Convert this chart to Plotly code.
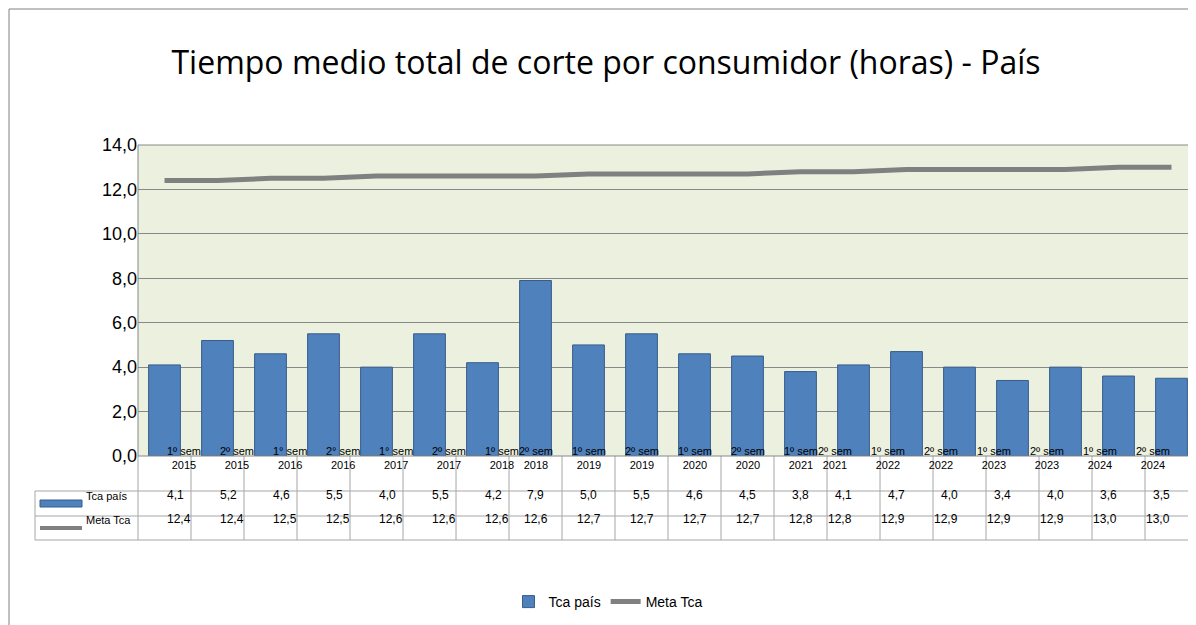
import plotly.graph_objects as go

cats1 = ["1º sem","2º sem","1° sem","2° sem","1° sem","2º sem","1º sem","2º sem","1º sem","2º sem",
         "1º sem","2º sem","1º sem","2º sem","1º sem","2º sem","1º sem","2º sem","1º sem","2º sem"]
years = ["2015","2015","2016","2016","2017","2017","2018","2018","2019","2019",
         "2020","2020","2021","2021","2022","2022","2023","2023","2024","2024"]
tca = [4.1,5.2,4.6,5.5,4.0,5.5,4.2,7.9,5.0,5.5,4.6,4.5,3.8,4.1,4.7,4.0,3.4,4.0,3.6,3.5]
meta = [12.4,12.4,12.5,12.5,12.6,12.6,12.6,12.6,12.7,12.7,12.7,12.7,12.8,12.8,12.9,12.9,12.9,12.9,13.0,13.0]
yticks = [0,2,4,6,8,10,12,14]

W, H = 1196, 625
L, R, T, B = 130, 1190, 137, 448
n = len(tca)
xs = list(range(n))
def px(p): return (p - L) / (R - L)
def py(p): return (B - p) / (B - T)
colw = (R - L) / n

fig = go.Figure()
fig.add_bar(x=xs, y=tca, name="Tca país", width=0.6,
            marker=dict(color="#4f81bd", line=dict(color="#385d8a", width=1)))
fig.add_scatter(x=xs, y=meta, name="Meta Tca", mode="lines",
                line=dict(color="#808080", width=5))

shapes, ann = [], []
lc = dict(color="#a6a6a6", width=1)
for yy in [483, 508, 532]:
    shapes.append(dict(type="line", xref="paper", yref="paper", x0=px(27), x1=1, y0=py(yy), y1=py(yy), line=lc))
shapes.append(dict(type="line", xref="paper", yref="paper", x0=px(27), x1=px(27), y0=py(483), y1=py(532), line=lc))
for i in range(n + 1):
    xx = L + i * colw
    shapes.append(dict(type="line", xref="paper", yref="paper", x0=px(xx), x1=px(xx), y0=0, y1=py(532), line=lc))
shapes.append(dict(type="rect", xref="paper", yref="paper", x0=px(32), x1=px(74), y0=py(499), y1=py(492),
                   fillcolor="#4f81bd", line=dict(color="#385d8a", width=1)))
shapes.append(dict(type="line", xref="paper", yref="paper", x0=px(32), x1=px(74), y0=py(520), y1=py(520),
                   line=dict(color="#808080", width=4)))
ann.append(dict(xref="paper", yref="paper", x=px(76), y=py(496), text="Tca país", showarrow=False, xanchor="left",
                font=dict(size=11)))
ann.append(dict(xref="paper", yref="paper", x=px(76), y=py(520), text="Meta Tca", showarrow=False, xanchor="left",
                font=dict(size=11)))
for i in range(n):
    cx = px(L + (i + 0.5) * colw)
    ann.append(dict(xref="paper", yref="paper", x=cx, y=py(465), text=f"{cats1[i]}<br>{years[i]}",
                    showarrow=False, font=dict(size=11)))
    ann.append(dict(xref="paper", yref="paper", x=cx, y=py(496), text=f"{tca[i]:.1f}".replace(".", ","),
                    showarrow=False, font=dict(size=12)))
    ann.append(dict(xref="paper", yref="paper", x=cx, y=py(520), text=f"{meta[i]:.1f}".replace(".", ","),
                    showarrow=False, font=dict(size=12)))
shapes.append(dict(type="rect", xref="paper", yref="paper", x0=px(1), x1=px(1195), y0=py(1), y1=py(624),
                   line=dict(color="#808080", width=1)))
shapes.append(dict(type="rect", xref="paper", yref="paper", x0=0, x1=1, y0=0, y1=1,
                   line=dict(color="#888888", width=1)))

fig.update_layout(
    width=W, height=H, autosize=False, margin=dict(l=L, r=W - R, t=T, b=H - B, autoexpand=False),
    paper_bgcolor="white", plot_bgcolor="#ebf1de",
    font=dict(family="Liberation Sans, Arial", color="black"),
    title=dict(text="Tiempo medio total de corte por consumidor (horas) - País", x=0.5, xref="container",
               y=1 - 55 / H, yref="container", xanchor="center", yanchor="middle",
               font=dict(size=32, family="Open Sans")),
    xaxis=dict(range=[-0.5, n - 0.5], showticklabels=False, showgrid=False, zeroline=False, ticks=""),
    yaxis=dict(range=[0, 14], tickvals=yticks, ticktext=[f"{v:.1f}".replace(".", ",") for v in yticks],
               showgrid=True, gridcolor="#888888", zeroline=False, tickfont=dict(size=18), ticks=""),
    legend=dict(orientation="h", x=px(600), xanchor="center", y=1 - 594 / H, yref="container",
                yanchor="middle", font=dict(size=14), traceorder="normal"),
    shapes=shapes, annotations=ann, bargap=0.4, showlegend=True,
)
fig.write_html("out.html")
